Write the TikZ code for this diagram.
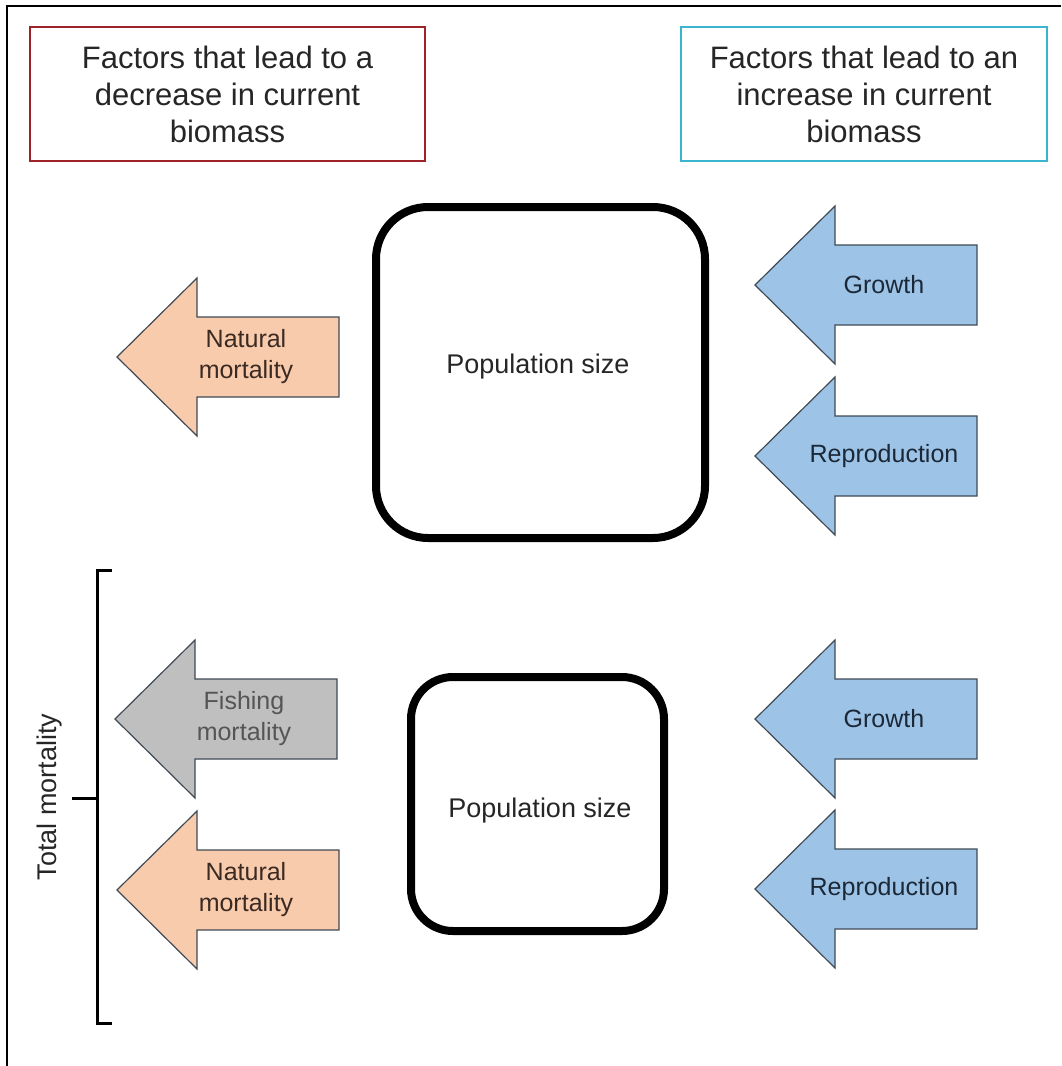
\documentclass[tikz,border=0pt]{standalone}
\usepackage{fontspec}
\setmainfont{Liberation Sans}
\usetikzlibrary{positioning}
\definecolor{decRed}    {HTML}{9E2227}
\definecolor{incCyan}   {HTML}{3BB4CF}
\definecolor{natPeach}  {HTML}{F8CBAD}
\definecolor{fishGray}  {HTML}{BFBFBF}
\definecolor{growBlue}  {HTML}{9DC3E6}
\definecolor{arrowEdge} {HTML}{404A55}
\definecolor{natText}   {HTML}{3B2A22}
\definecolor{growText}  {HTML}{1B2838}
\definecolor{fishText}  {HTML}{555555}
\tikzset{
  titlebox/.style = {rectangle, draw, line width=2.8pt, fill=white,
                     minimum width=395pt, minimum height=134pt, align=center,
                     font=\fontsize{31}{37}\selectfont, text=black!85},
  popbox/.style   = {rectangle, draw=black, line width=8pt},
  poplabel/.style = {font=\fontsize{27}{31}\selectfont, text=black!85},
  sidearrow/.style= {draw=arrowEdge, line width=1.2pt, line join=miter},
}

\begin{document}
\begin{tikzpicture}[
  x=1pt, y=-1pt,
  every node/.style={font=\fontsize{25}{31}\selectfont, align=center},
]
\useasboundingbox (0,0) rectangle (1061,1066);

% Frame
\draw[line width=1.5pt] (7,1066) -- (7,6) -- (1061,6);

% Headings
\node[titlebox, draw=decRed]  (dec) at (227.5,94)
  {Factors that lead to a\\decrease in current\\biomass};
\node[titlebox, draw=incCyan, minimum width=366pt] (inc) at (864,94)
  {Factors that lead to an\\increase in current\\biomass};

% Population
\node[popbox, minimum width=329pt, minimum height=331pt,
      rounded corners=52pt] (popA) at (540.5,372.5) {};
\node[poplabel] (popAtxt) at (538,367) {Population size};
\node[popbox, minimum width=253pt, minimum height=254pt,
      rounded corners=42pt] (popB) at (537.5,804) {};
\node[poplabel] (popBtxt) at (540,811) {Population size};

% Arrows
\foreach \nm/\tx/\cy/\fc/\tc/\txt in {
    natA/117/357/natPeach/natText/{Natural\\mortality},
    growA/755/285/growBlue/growText/{Growth},
    repA/755/456/growBlue/growText/{Reproduction},
    fishB/115/719/fishGray/fishText/{Fishing\\mortality},
    natB/117/890/natPeach/natText/{Natural\\mortality},
    growB/755/719/growBlue/growText/{Growth},
    repB/755/889/growBlue/growText/{Reproduction}}
{
  \draw[sidearrow, fill=\fc] (\tx,\cy) -- ++(80,-79) -- ++(0,39) -- ++(142,0)
    -- ++(0,80) -- ++(-142,0) -- ++(0,39) -- cycle;
  \node[text=\tc] (\nm) at (\tx+129,\cy) {\txt};
}

% Total mortality bracket
\node[rotate=90, font=\fontsize{27}{30}\selectfont, text=black!85]
  (totmort) at (50,797) {Total mortality};
\coordinate (brtop) at (112,570);
\coordinate (brbot) at (112,1023);
\draw[line width=3pt] (brtop) -- (97,570) -- (97,1023) -- (brbot);
\draw[line width=3pt] (72,798) -- (97,798);

\end{tikzpicture}
\end{document}
